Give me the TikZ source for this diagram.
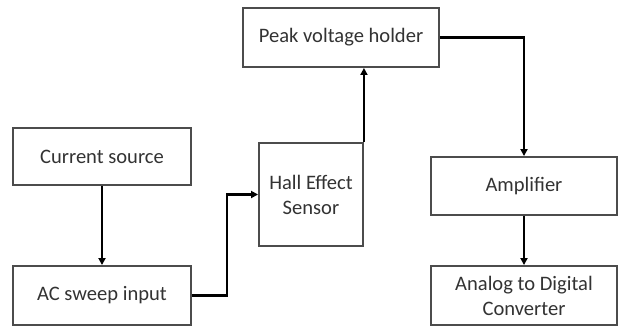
\documentclass[tikz,border=0pt]{standalone}
\usepackage{fontspec}
\setmainfont{Carlito}
\usetikzlibrary{arrows.meta}

\begin{document}
\begin{tikzpicture}[x=0.02cm, y=-0.02cm, thick,
    blockbox/.style={draw=black!70, line width=1.1pt, fill=white, align=center, text=black!80,
        font=\fontsize{11.7}{14.2}\selectfont, inner sep=0pt},
    flow/.style={-{Triangle[length=4pt, width=4pt]}, line width=1.5pt}]

    % --- 画布大小 ---
    \useasboundingbox (0,0) rectangle (618,328);

    % --- 1. 左侧两个方框 ---
    \node[blockbox, minimum width=3.56cm, minimum height=1.14cm] (cursrc) at (102,156.5) {Current source};
    \node[blockbox, minimum width=3.56cm, minimum height=1.18cm] (acin) at (102,295.5) {AC sweep input};

    % --- 2. 中间的传感器和峰值保持 ---
    \node[blockbox, minimum width=2.08cm, minimum height=2.06cm] (hall) at (311,194.5) {Hall Effect\\Sensor};
    \node[blockbox, minimum width=3.92cm, minimum height=1.18cm] (peak) at (341,37.5) {Peak voltage holder};

    % --- 3. 右侧放大器和 ADC ---
    \node[blockbox, minimum width=3.72cm, minimum height=1.16cm] (amp) at (524,186) {Amplifier};
    \node[blockbox, minimum width=3.72cm, minimum height=1.18cm] (adc) at (524,295.5) {Analog to Digital\\Converter};

    % --- 4. 连线 ---
    \draw[flow] (cursrc) -- (acin);
    \draw[flow] (acin.east) -- ++(35,0) |- (hall.west);
    \draw[flow] (hall.north east) -- (hall.north east |- peak.south);
    \draw[flow] (peak.east) -| (amp.north);
    \draw[flow] (amp) -- (adc);

\end{tikzpicture}
\end{document}
